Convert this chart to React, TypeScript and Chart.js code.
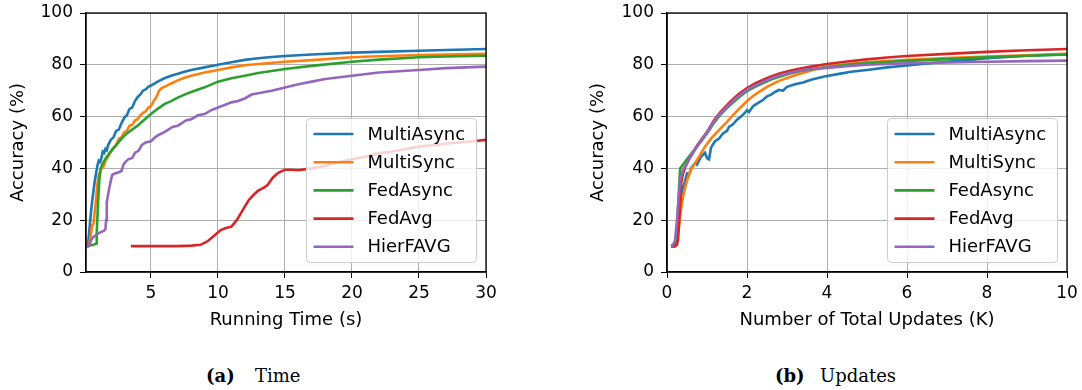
import React, { useEffect, useRef } from "react";
import { Chart, registerables } from "chart.js";

Chart.register(...registerables);

const seriesNames = ["MultiAsync", "MultiSync", "FedAsync", "FedAvg", "HierFAVG"];
const seriesColors = ["#1f77b4", "#ff7f0e", "#2ca02c", "#d62728", "#9467bd"];
const yTicks = [0, 20, 40, 60, 80, 100];
const timeTicks = [5, 10, 15, 20, 25, 30];
const updateTicks = [0, 2, 4, 6, 8, 10];

// ---------- (a) accuracy vs running time (s) ----------
const timeMultiAsyncX = [0.15, 0.3, 0.4, 0.5, 0.6, 0.7, 0.8, 0.9, 1.0, 1.1, 1.2, 1.3, 1.4, 1.5, 1.6, 1.7, 1.8, 2.0, 2.2, 2.4, 2.6, 2.8, 3.0, 3.2, 3.4, 3.6, 3.8, 4.0, 4.2, 4.4, 4.6, 4.8, 5.0, 5.5, 6.0, 6.5, 7.0, 7.5, 8, 9, 10, 11, 12, 13, 14, 15, 17, 20, 22, 25, 27, 30];
const timeMultiAsyncAcc = [10, 10.5, 16, 22, 27, 31, 35, 38, 41, 43, 42.5, 44, 46.5, 46, 47.5, 47, 49, 51, 52, 54.5, 55, 57.5, 59.5, 60.5, 63, 63.5, 66, 67.5, 68.5, 70, 70.5, 71.5, 72, 73.5, 74.8, 75.8, 76.5, 77.3, 78, 79, 80, 81, 81.9, 82.5, 83, 83.4, 84, 84.7, 85, 85.4, 85.7, 86.1];

const timeMultiSyncX = [0.15, 0.3, 0.4, 0.5, 0.6, 0.7, 0.8, 0.9, 1.0, 1.1, 1.2, 1.3, 1.4, 1.5, 1.6, 1.8, 2.0, 2.2, 2.4, 2.6, 2.8, 3.0, 3.2, 3.4, 3.6, 3.8, 4.0, 4.2, 4.4, 4.6, 4.8, 5.0, 5.2, 5.4, 5.6, 5.8, 6.0, 6.5, 7, 7.5, 8, 9, 10, 11, 12, 13, 15, 17, 20, 22, 25, 30];
const timeMultiSyncAcc = [10, 10, 11, 14, 18, 18.5, 23, 28, 34, 37.5, 38.5, 40, 40.5, 41, 43, 44.5, 46.5, 48, 49, 51.5, 52, 54, 54.5, 56.5, 56.8, 58.5, 59, 60.5, 61.5, 62, 63.5, 64, 66, 67.5, 70, 71, 71.5, 72.8, 74, 75, 75.8, 77, 78, 79, 79.8, 80.3, 81.2, 81.8, 82.9, 83.3, 83.8, 84.2];

const timeFedAsyncX = [0.15, 0.3, 0.5, 0.7, 0.9, 0.95, 1.05, 1.15, 1.25, 1.4, 1.7, 2.0, 2.4, 2.8, 3.2, 3.6, 4.0, 4.5, 5.0, 5.5, 6.0, 6.5, 7.0, 7.5, 8, 9, 10, 11, 12, 13, 14, 15, 17, 20, 22, 25, 27, 30];
const timeFedAsyncAcc = [10, 10, 10.3, 10.5, 11, 15, 27, 36, 40, 42, 44.5, 46.5, 49, 51.5, 53.5, 55, 56.5, 58.8, 61, 63, 64.8, 66, 67.3, 68.5, 69.5, 71.3, 73.5, 74.8, 75.8, 76.8, 77.6, 78.4, 79.6, 81.2, 82, 82.9, 83.2, 83.5];

const timeFedAvgX = [3.5, 5, 7, 8, 8.7, 9.2, 9.6, 10.2, 10.6, 11.0, 11.4, 11.8, 12.3, 12.7, 13.0, 13.4, 13.7, 14.1, 14.5, 15.0, 15.5, 16.0, 17, 18, 19, 20, 21, 22, 23, 24, 25, 26, 27, 28, 29, 30];
const timeFedAvgAcc = [10, 10, 10, 10.2, 10.5, 11.8, 13.5, 16.2, 17, 17.5, 20, 23.5, 27.8, 30, 31.4, 32.5, 33.6, 36.5, 38.3, 39.5, 39.5, 39.3, 40, 41, 42.5, 43.5, 44.5, 45.8, 46.5, 47.5, 48.4, 49, 49.5, 50, 50.5, 51];

const timeHierFAVGX = [0.15, 0.3, 0.45, 0.55, 0.7, 0.9, 1.1, 1.3, 1.5, 1.6, 1.65, 1.7, 1.8, 1.95, 2.1, 2.3, 2.6, 2.8, 2.95, 3.1, 3.3, 3.6, 3.8, 4.1, 4.3, 4.6, 5.0, 5.3, 5.6, 6.0, 6.3, 6.6, 7.0, 7.3, 7.6, 8.0, 8.5, 9.0, 9.5, 10, 10.5, 11, 11.5, 12, 12.5, 13, 14, 15, 16, 17, 18, 20, 22, 25, 27, 30];
const timeHierFAVGAcc = [10, 10, 11, 12.5, 13.5, 14.3, 15, 15.5, 16, 16.5, 20, 27, 30, 34, 37.5, 38, 38.5, 39, 41.5, 42.5, 43.5, 44, 46, 47, 49, 50, 50.5, 52, 53, 54, 55, 56, 56.5, 57.5, 58.5, 59, 60.5, 61, 62.5, 63.5, 64.5, 65.5, 66, 67, 68.5, 69, 70, 71.2, 72.5, 73.5, 74.5, 75.8, 77, 78, 78.7, 79.3];

// ---------- (b) accuracy vs number of total updates (K) ----------
const updMultiAsyncX = [0.1, 0.18, 0.22, 0.26, 0.3, 0.34, 0.38, 0.45, 0.5, 0.55, 0.6, 0.7, 0.75, 0.85, 0.95, 1.0, 1.05, 1.1, 1.2, 1.3, 1.4, 1.5, 1.55, 1.65, 1.75, 1.85, 1.95, 2.0, 2.05, 2.15, 2.3, 2.4, 2.5, 2.6, 2.7, 2.8, 2.9, 3.0, 3.2, 3.4, 3.6, 3.8, 4.0, 4.3, 4.6, 5.0, 5.5, 6.0, 6.5, 7.0, 7.5, 8, 8.5, 9, 9.5, 10];
const updMultiAsyncAcc = [10, 10, 11, 17.5, 23, 28, 31.7, 35, 38, 37.5, 40, 42, 41.5, 44.5, 46, 44, 43.5, 48, 50.5, 51.5, 53.5, 54.5, 56, 57, 58.8, 60, 61.5, 62.5, 61.8, 64, 65.5, 66.4, 67.8, 68.5, 69.5, 70.3, 70, 71.5, 72.5, 73.2, 74.2, 75, 75.7, 76.5, 77.3, 78, 79, 79.7, 80.5, 81.2, 81.8, 82.5, 83, 83.5, 83.8, 84];

const updMultiSyncX = [0.1, 0.2, 0.25, 0.3, 0.35, 0.4, 0.47, 0.53, 0.6, 0.7, 0.8, 0.95, 1.1, 1.3, 1.5, 1.65, 1.8, 1.9, 2.0, 2.2, 2.5, 2.8, 3.2, 3.6, 4.0, 4.5, 5, 6, 7, 8, 9, 10];
const updMultiSyncAcc = [10, 10, 13, 17.5, 24, 29, 33.5, 36.8, 39.5, 42, 44.5, 48.4, 51.5, 54.8, 58, 60.6, 63, 64.5, 66, 68.5, 71.5, 73.8, 76, 77.8, 79.3, 80.3, 81, 81.9, 82.6, 83.2, 83.7, 84.2];

const updFedAsyncX = [0.1, 0.18, 0.22, 0.26, 0.3, 0.33, 0.4, 0.5, 0.6, 0.75, 0.9, 1.0, 1.17, 1.35, 1.58, 1.8, 2.0, 2.2, 2.42, 2.6, 2.83, 3.1, 3.33, 3.6, 4.0, 4.5, 5, 5.5, 6, 7, 8, 9, 10];
const updFedAsyncAcc = [10, 10, 12, 20, 32, 40, 41.5, 43.5, 45.5, 48.4, 51.5, 53.5, 57.5, 61, 64.5, 67.5, 69.8, 71.5, 73, 74.3, 75.5, 76.7, 77.6, 78.3, 79, 80, 80.7, 81.1, 81.5, 82.2, 82.9, 83.5, 84];

const updFedAvgX = [0.1, 0.2, 0.25, 0.28, 0.32, 0.35, 0.4, 0.46, 0.55, 0.65, 0.75, 0.9, 1.0, 1.17, 1.35, 1.58, 1.8, 2.0, 2.2, 2.42, 2.6, 2.83, 3.1, 3.33, 3.6, 4.0, 4.5, 5, 5.5, 6, 7, 8, 9, 10];
const updFedAvgAcc = [10, 10, 10.5, 13, 24, 34, 38, 40.7, 43.5, 46, 48.8, 52, 54, 58.5, 62, 65.8, 68.8, 71, 72.8, 74.3, 75.5, 76.7, 77.8, 78.6, 79.3, 80.3, 81.3, 82.1, 82.8, 83.4, 84.2, 85, 85.6, 86.1];

const updHierFAVGX = [0.1, 0.15, 0.2, 0.25, 0.3, 0.33, 0.4, 0.5, 0.6, 0.75, 0.9, 1.0, 1.17, 1.35, 1.58, 1.8, 2.0, 2.2, 2.42, 2.6, 2.83, 3.1, 3.33, 3.6, 4.0, 4.5, 5, 5.5, 6, 7, 8, 9, 10];
const updHierFAVGAcc = [10, 10.5, 12, 20, 30, 35.5, 39.4, 42, 44.8, 48.5, 51.8, 53.8, 58, 61.5, 65.1, 68, 70.3, 72, 73.5, 74.8, 76, 77, 77.8, 78.4, 78.8, 79.5, 80, 80.3, 80.6, 80.9, 81.2, 81.4, 81.6];

const timeSeries = [
  [timeMultiAsyncX, timeMultiAsyncAcc],
  [timeMultiSyncX, timeMultiSyncAcc],
  [timeFedAsyncX, timeFedAsyncAcc],
  [timeFedAvgX, timeFedAvgAcc],
  [timeHierFAVGX, timeHierFAVGAcc],
];
const updateSeries = [
  [updMultiAsyncX, updMultiAsyncAcc],
  [updMultiSyncX, updMultiSyncAcc],
  [updFedAsyncX, updFedAsyncAcc],
  [updFedAvgX, updFedAvgAcc],
  [updHierFAVGX, updHierFAVGAcc],
];

const FONT = "'DejaVu Sans', sans-serif";

const frameLegendPlugin = {
  id: "frameLegend",
  afterDraw(chart: any) {
    const { ctx, chartArea: a } = chart;
    ctx.save();
    // legend box
    const bw = 170;
    const bh = 144;
    const bx = Math.round(a.right - 10 - bw) + 0.5;
    const by = Math.round(a.bottom - 10 - bh) + 0.5;
    ctx.beginPath();
    if ((ctx as any).roundRect) (ctx as any).roundRect(bx, by, bw, bh, 4);
    else ctx.rect(bx, by, bw, bh);
    ctx.fillStyle = "rgba(255,255,255,0.8)";
    ctx.fill();
    ctx.strokeStyle = "#cccccc";
    ctx.lineWidth = 1;
    ctx.stroke();
    ctx.font = `18px ${FONT}`;
    ctx.textBaseline = "middle";
    ctx.textAlign = "left";
    seriesNames.forEach((name, i) => {
      const y = by + 15.5 + i * 28.2;
      ctx.beginPath();
      ctx.moveTo(bx + 7, y);
      ctx.lineTo(bx + 47, y);
      ctx.strokeStyle = seriesColors[i];
      ctx.lineWidth = 2.6;
      ctx.lineCap = "butt";
      ctx.stroke();
      ctx.fillStyle = "#000";
      ctx.fillText(name, bx + 61, y + 1);
    });
    // axes frame (spines)
    ctx.strokeStyle = "#000";
    ctx.lineWidth = 1.3;
    ctx.strokeRect(a.left, a.top, a.right - a.left, a.bottom - a.top);
    ctx.restore();
  },
};

type PanelProps = {
  left: number;
  width: number;
  series: number[][][];
  xMin: number;
  xMax: number;
  xTicks: number[];
  xTitle: string;
  areaLeft: number;
  areaRight: number;
};

const AREA_TOP = 13;
const AREA_BOTTOM = 272;
const CANVAS_H = 340;

function zeroPadding(scale: any) {
  scale.paddingTop = 0;
  scale.paddingBottom = 0;
  scale.paddingLeft = 0;
  scale.paddingRight = 0;
}

function Panel(props: PanelProps) {
  const ref = useRef<HTMLCanvasElement | null>(null);
  useEffect(() => {
    if (!ref.current) return;
    const datasets = props.series.map(([xs, ys], i) => ({
      label: seriesNames[i],
      data: xs.map((x, k) => ({ x, y: ys[k] })),
      borderColor: seriesColors[i],
      backgroundColor: seriesColors[i],
      borderWidth: 2.6,
      pointRadius: 0,
      tension: 0,
      fill: false,
      order: 5 - i,
    }));
    const pad = { top: AREA_TOP, right: props.width - props.areaRight, bottom: 0, left: 0 };
    const fit = { yWidth: props.areaLeft, xHeight: CANVAS_H - AREA_BOTTOM };
    const chart = new Chart(ref.current, {
      type: "line",
      data: { datasets },
      plugins: [frameLegendPlugin],
      options: {
        animation: false,
        responsive: false,
        devicePixelRatio: 1,
        layout: { padding: pad },
        plugins: { legend: { display: false }, tooltip: { enabled: false } },
        scales: {
          x: {
            type: "linear",
            min: props.xMin,
            max: props.xMax,
            afterBuildTicks: (scale: any) => {
              scale.ticks = props.xTicks.map((v) => ({ value: v }));
            },
            afterFit: (scale: any) => {
              scale.height = fit.xHeight;
              zeroPadding(scale);
            },
            ticks: {
              color: "#000",
              font: { family: FONT, size: 17 },
              padding: 5,
              maxRotation: 0,
              autoSkip: false,
              callback: (v: any) => String(v),
            },
            grid: {
              color: "#b0b0b0",
              lineWidth: 1,
              tickColor: "#000",
              tickLength: 6,
              drawTicks: true,
            },
            border: { display: true, color: "#000", width: 1.3 },
            title: {
              display: true,
              text: props.xTitle,
              color: "#000",
              font: { family: FONT, size: 18 },
              padding: { top: 0, bottom: 9 },
            },
          },
          y: {
            type: "linear",
            min: 0,
            max: 100,
            afterBuildTicks: (scale: any) => {
              scale.ticks = yTicks.map((v) => ({ value: v }));
            },
            afterFit: (scale: any) => {
              scale.width = fit.yWidth;
              zeroPadding(scale);
            },
            ticks: {
              color: "#000",
              font: { family: FONT, size: 17 },
              padding: 7,
              callback: (v: any) => String(v),
            },
            grid: {
              color: "#b0b0b0",
              lineWidth: 1,
              tickColor: "#000",
              tickLength: 6,
              drawTicks: true,
            },
            border: { display: true, color: "#000", width: 1.3 },
            title: {
              display: true,
              text: "Accuracy (%)",
              color: "#000",
              font: { family: FONT, size: 18 },
              padding: { top: 8, bottom: 0 },
            },
          },
        },
      },
    } as any);
    // correction passes so the plot area lands exactly where intended
    for (let k = 0; k < 3; k++) {
      const a = chart.chartArea;
      const dTop = AREA_TOP - a.top;
      const dBottom = a.bottom - AREA_BOTTOM;
      const dLeft = props.areaLeft - a.left;
      const dRight = a.right - props.areaRight;
      if (Math.abs(dTop) < 0.5 && Math.abs(dBottom) < 0.5 && Math.abs(dLeft) < 0.5 && Math.abs(dRight) < 0.5) break;
      pad.top += dTop;
      fit.xHeight += dBottom;
      fit.yWidth += dLeft;
      pad.right += dRight;
      (chart.options as any).layout.padding = { ...pad };
      chart.update("none");
    }
    return () => chart.destroy();
  }, []);
  return (
    <canvas
      ref={ref}
      width={props.width}
      height={CANVAS_H}
      style={{ position: "absolute", left: props.left, top: 0, width: props.width, height: CANVAS_H }}
    />
  );
}

const captionStyle: React.CSSProperties = {
  position: "absolute",
  top: 367,
  fontFamily: "'DejaVu Serif', serif",
  fontSize: 18,
  lineHeight: "18px",
  color: "#000",
  whiteSpace: "nowrap",
};

export default function App() {
  return (
    <div style={{ position: "absolute", left: 0, top: 0, width: 1082, height: 390, background: "#fff", overflow: "hidden" }}>
      <Panel
        left={0}
        width={500}
        series={timeSeries}
        xMin={0.15}
        xMax={30}
        xTicks={timeTicks}
        xTitle="Running Time (s)"
        areaLeft={86}
        areaRight={486}
      />
      <Panel
        left={580}
        width={502}
        series={updateSeries}
        xMin={0}
        xMax={10}
        xTicks={updateTicks}
        xTitle="Number of Total Updates (K)"
        areaLeft={87}
        areaRight={487}
      />
      <span style={{ ...captionStyle, left: 206, fontWeight: "bold" }}>(a)</span>
      <span style={{ ...captionStyle, left: 255 }}>Time</span>
      <span style={{ ...captionStyle, left: 775, fontWeight: "bold" }}>(b)</span>
      <span style={{ ...captionStyle, left: 820 }}>Updates</span>
    </div>
  );
}
